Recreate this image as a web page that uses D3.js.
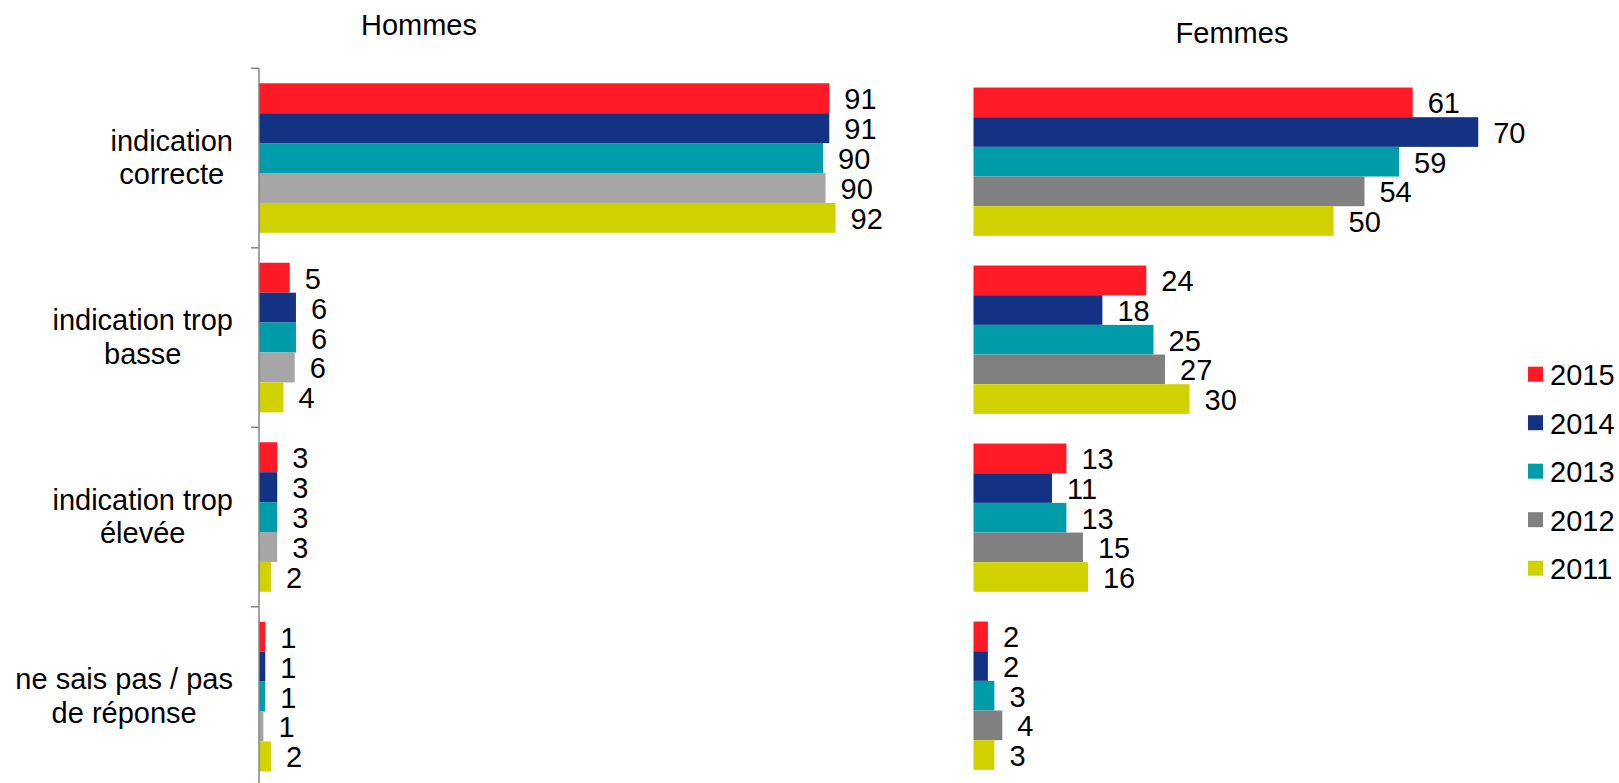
<!DOCTYPE html>
<html>
<head>
<meta charset="utf-8">
<script src="https://cdn.jsdelivr.net/npm/d3@7"></script>
<style>
  html, body { margin: 0; padding: 0; background: #fff; }
  svg { display: block; font-family: "Liberation Sans", Arial, sans-serif; }
</style>
</head>
<body>
<svg id="chart" width="1619" height="783"></svg>
<script>
// ---- data ----
const categories = ["indication correcte", "indication trop basse", "indication trop élevée", "ne sais pas / pas de réponse"];
const categoryLines = [["indication", "correcte"], ["indication trop", "basse"], ["indication trop", "élevée"], ["ne sais pas / pas", "de réponse"]];
const years = ["2015", "2014", "2013", "2012", "2011"];
const panelTitles = ["Hommes", "Femmes"];

const hommes2015 = [91.0, 4.9, 2.9, 1.0];
const hommes2014 = [91.0, 5.9, 2.9, 1.0];
const hommes2013 = [90.0, 5.9, 2.9, 1.0];
const hommes2012 = [90.4, 5.7, 2.9, 0.7];
const hommes2011 = [92.0, 3.9, 1.9, 1.9];

const femmes2015 = [61.0, 24.0, 12.9, 2.0];
const femmes2014 = [70.1, 17.9, 10.9, 2.0];
const femmes2013 = [59.1, 25.0, 12.9, 2.9];
const femmes2012 = [54.3, 26.6, 15.2, 4.0];
const femmes2011 = [50.0, 30.0, 15.9, 2.9];

const hommesColors = ["#ff1a25", "#133283", "#009ca9", "#a6a6a6", "#d1d100"];
const femmesColors = ["#ff1a25", "#133283", "#009ca9", "#808080", "#d1d100"];

// ---- build ----
const svg = d3.select("#chart");
const FONT = 29;

const panels = [
  { title: panelTitles[0], series: [hommes2015, hommes2014, hommes2013, hommes2012, hommes2011], colors: hommesColors,
    x0: 259, k: 6.267, y0: 68.3, y1: 786.3, titleX: 419, titleY: 35, axis: true },
  { title: panelTitles[1], series: [femmes2015, femmes2014, femmes2013, femmes2012, femmes2011], colors: femmesColors,
    x0: 973.5, k: 7.2, y0: 72.7, y1: 784.7, titleX: 1232, titleY: 43.3, axis: false }
];

panels.forEach((p, pi) => {
  const x = d3.scaleLinear().domain([0, 100]).range([p.x0, p.x0 + 100 * p.k]);
  const y = d3.scaleBand().domain(categories).range([p.y0, p.y1]).paddingInner(0).paddingOuter(0);
  const yIn = d3.scaleBand().domain(years).range([0, y.bandwidth()]).paddingInner(0).paddingOuter(0.5);

  const g = svg.append("g");

  // title
  g.append("text")
    .attr("x", p.titleX).attr("y", p.titleY)
    .attr("text-anchor", "middle")
    .attr("font-size", FONT)
    .attr("fill", "#000")
    .text(p.title);

  // bars
  years.forEach((yr, si) => {
    const vals = p.series[si];
    g.selectAll(null)
      .data(categories.map((c, ci) => ({ c, v: vals[ci] })))
      .join("rect")
      .attr("x", x(0))
      .attr("y", d => y(d.c) + yIn(yr))
      .attr("width", d => x(d.v) - x(0))
      .attr("height", yIn.bandwidth())
      .attr("fill", p.colors[si]);

    g.selectAll(null)
      .data(categories.map((c, ci) => ({ c, v: vals[ci] })))
      .join("text")
      .attr("x", d => x(d.v) + 15)
      .attr("y", d => y(d.c) + yIn(yr) + yIn.bandwidth() / 2 + 11)
      .attr("font-size", FONT)
      .attr("fill", "#000")
      .text(d => d3.format(".0f")(d.v));
  });

  if (p.axis) {
    const bounds = categories.map(c => y(c)).concat([p.y1]);
    g.append("line")
      .attr("x1", x(0)).attr("x2", x(0))
      .attr("y1", bounds[0]).attr("y2", bounds[bounds.length - 1])
      .attr("stroke", "#868686").attr("stroke-width", 1.5);
    g.selectAll(null).data(bounds).join("line")
      .attr("x1", x(0) - 8).attr("x2", x(0))
      .attr("y1", d => d).attr("y2", d => d)
      .attr("stroke", "#868686").attr("stroke-width", 1.5);

    // category labels: block right-aligned, lines centered within block
    const lh = 33.5;
    categories.forEach((c, ci) => {
      const lines = categoryLines[ci];
      const cy = y(c) + y.bandwidth() / 2;
      const tg = g.append("g");
      const texts = lines.map((ln, li) =>
        tg.append("text")
          .attr("y", cy + (li - (lines.length - 1) / 2) * lh + 9.5)
          .attr("font-size", FONT)
          .attr("text-anchor", "middle")
          .attr("fill", "#000")
          .text(ln));
      const maxW = d3.max(texts, t => t.node().getComputedTextLength());
      const right = 233;
      texts.forEach(t => t.attr("x", right - maxW / 2));
    });
  }
});

// legend
const legend = svg.append("g");
years.forEach((yr, i) => {
  const ly = 366.7 + i * 48.5;
  legend.append("rect")
    .attr("x", 1528).attr("y", ly)
    .attr("width", 15).attr("height", 15)
    .attr("fill", femmesColors[i]);
  legend.append("text")
    .attr("x", 1550).attr("y", ly + 18.5)
    .attr("font-size", FONT)
    .attr("fill", "#000")
    .text(yr);
});
</script>
</body>
</html>
